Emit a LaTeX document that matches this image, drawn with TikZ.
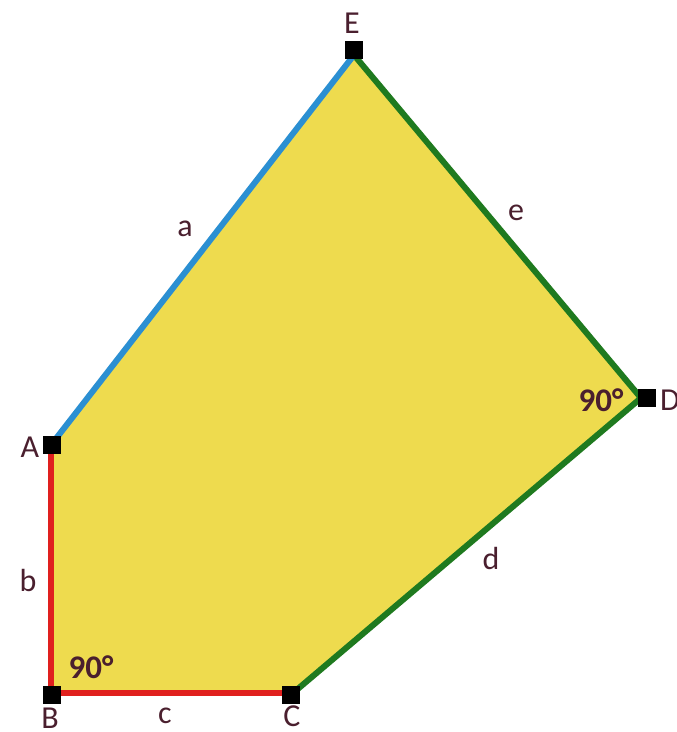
\documentclass[tikz,border=0pt]{standalone}
\usepackage{fontspec}
\setmainfont{Carlito}
\usetikzlibrary{positioning}
\definecolor{polyfill}{HTML}{EEDB4E}
\definecolor{sidered}{HTML}{E0201E}
\definecolor{sideblue}{HTML}{2B8FD2}
\definecolor{sidegreen}{HTML}{1F7A1F}
\definecolor{labelink}{HTML}{4A1F2E}

\begin{document}
\begin{tikzpicture}[
    x=1pt, y=-1pt,
    corner/.style={fill=black, minimum size=18pt, inner sep=0pt},
    vname/.style={text=labelink, font=\fontsize{32}{34}\selectfont},
    sname/.style={text=labelink, font=\fontsize{32}{34}\selectfont},
    angle/.style={text=labelink, font=\bfseries\fontsize{33}{35}\selectfont},
    side/.style={line width=6pt}
  ]
    \useasboundingbox (0,0) rectangle (677,732);

    % vertices of the pentagon
    \coordinate (pA) at (51,445);
    \coordinate (pB) at (51,693);
    \coordinate (pC) at (293,693);
    \coordinate (pD) at (641,398);
    \coordinate (pE) at (354,55);

    \fill[polyfill] (pA) -- (pB) -- (pC) -- (pD) -- (pE) -- cycle;

    \draw[side, sidered] (pA) -- (pB) -- (pC);
    \draw[side, sidegreen] (pC) -- (pD) -- (pE);
    \draw[side, sideblue] (pE) -- (pA);

    % corner markers
    \node[corner] (mA) at (52,445) {};
    \node[corner] (mB) at (52,695) {};
    \node[corner] (mC) at (291,695) {};
    \node[corner] (mD) at (647,398) {};
    \node[corner] (mE) at (354,50) {};

    % vertex names
    \node[vname] at (30,447) {A};
    \node[vname] at (50,718) {B};
    \node[vname] at (292,716) {C};
    \node[vname] at (670,400) {D};
    \node[vname] at (352,23) {E};

    % side names
    \node[sname] at (185,229) {a};
    \node[sname] at (28,580) {b};
    \node[sname] at (165,716) {c};
    \node[sname] at (491,558) {d};
    \node[sname] at (516,213) {e};

    % right angles
    \node[angle] at (91,667) {90°};
    \node[angle] at (601,400) {90°};
\end{tikzpicture}
\end{document}
